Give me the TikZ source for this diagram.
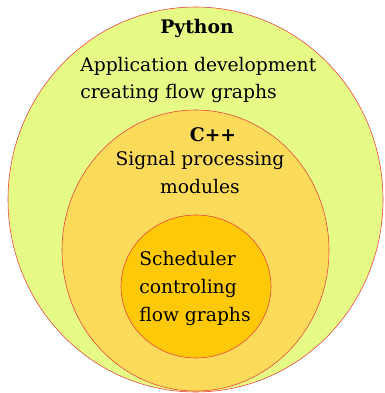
\documentclass[tikz,border=0pt]{standalone}
\usepackage{fontspec}
\setmainfont{DejaVu Serif}
\definecolor{PythonClr}{RGB}{230,251,133}
\definecolor{CppClr}{RGB}{253,219,90}
\definecolor{SchedClr}{RGB}{255,201,8}
\definecolor{EdgeClr}{RGB}{232,64,64}

\begin{document}
\begin{tikzpicture}[x=0.025cm,y=-0.025cm]
\tikzset{layer/.style={draw=EdgeClr,line width=0.4pt},
  lbl/.style={inner sep=0pt,font=\fontsize{13.3}{19.8}\selectfont}}
\useasboundingbox (0,0) rectangle (384,393);

% nested layers
\draw[layer,fill=PythonClr] (195.5,199.5) ellipse [x radius=187.5, y radius=192.5];
\draw[layer,fill=CppClr] (195.5,250.5) ellipse [x radius=133.5, y radius=140.5];
\draw[layer,fill=SchedClr] (196,286.5) ellipse [x radius=75, y radius=71.5];

% labels (base = last line)
\node[lbl,font=\fontsize{13.3}{19.8}\selectfont\bfseries,anchor=base] (python) at (197,34) {Python};
\node[lbl,align=left,anchor=base west] (appdev) at (80,99) {Application development\\creating flow graphs};
\node[lbl,font=\fontsize{13.3}{19.8}\selectfont\bfseries,anchor=base] (cpp) at (213,142) {C++};
\node[lbl,align=center,anchor=base] (sigproc) at (200,193) {Signal processing\\modules};
\node[lbl,align=left,anchor=base west] (sched) at (139,321) {Scheduler\\controling\\flow graphs};
\end{tikzpicture}
\end{document}
